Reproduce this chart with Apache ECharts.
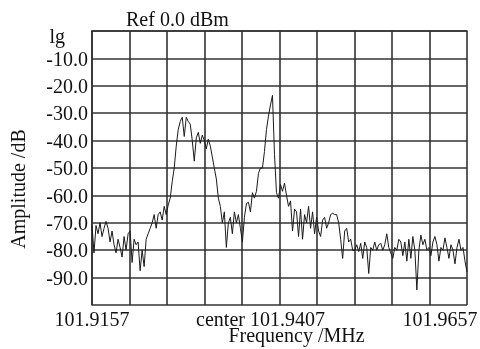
<!DOCTYPE html>
<html>
<head>
<meta charset="utf-8">
<style>
html,body{margin:0;padding:0;background:#fff;}
#chart{width:480px;height:349px;}
</style>
<script src="https://cdn.jsdelivr.net/npm/echarts@6.0.0/dist/echarts.min.js"></script>
</head>
<body>
<div id="chart"></div>
<script>
// sweep 101.9157 .. 101.9657 MHz, x is plotted as kHz offset from the start
const spanKHz = 50;
const xTickLabels = { 0: '101.9157', 25: 'center 101.9407', 50: '101.9657' };
// index = -level / 10
const yTickLabels = ['lg', '-10.0', '-20.0', '-30.0', '-40.0', '-50.0', '-60.0', '-70.0', '-80.0', '-90.0', ''];

// trace level in dB, evenly spaced across the span
const levels = [
  -71, -81, -71, -74, -70, -75, -72, -69.5, -72, -77, -73, -78, -81, -76, -79, -82.5, -75, -80, -74, -73,
  -84.5, -76, -78, -77, -87.5, -80, -86, -76, -74, -72, -70, -67, -72, -67, -66, -69, -64, -67, -63.5, -61,
  -55, -50, -42, -36, -33, -31.5, -38.5, -31.5, -33, -34, -40, -47.5, -39, -37, -41, -38, -40, -43, -39.5, -42,
  -46, -50, -54, -61, -64, -70, -66, -79, -70, -68, -74, -66, -70, -67, -72, -77, -68, -63, -62.5, -66,
  -59, -61, -58.5, -52, -50, -50, -44, -36, -31, -27, -23.5, -45, -59, -61, -56, -58.5, -55.5, -60, -64, -62,
  -73, -65, -66, -75, -65, -76, -67, -70, -64, -72, -66, -74, -68, -73, -75, -69, -68, -72, -70, -67,
  -66.5, -67, -67, -70, -76, -83, -73, -72, -77, -76, -80, -80, -78, -80.5, -77.5, -83, -77, -79, -88.5, -79,
  -80, -77, -80, -78, -77.5, -80, -78, -74, -79, -81, -83, -79, -80, -76, -77, -82, -77, -84, -76, -83,
  -75, -80, -94.5, -80, -74.5, -78, -76, -80, -79, -82, -77, -75, -78, -84, -79, -80, -75.5, -79, -83, -78,
  -80, -85, -79, -76, -80, -79, -84, -88
];

const font = 'Liberation Serif, Times New Roman, serif';
const trace = levels.map((v, i) => [i * spanKHz / (levels.length - 1), v]);

const chart = echarts.init(document.getElementById('chart'));
chart.setOption({
  animation: false,
  title: {
    text: 'Ref 0.0 dBm',
    left: 121,
    top: 6,
    textStyle: { fontFamily: font, fontSize: 20, fontWeight: 'normal', color: '#111' }
  },
  grid: { left: 92, right: 13, top: 31, bottom: 44, outerBoundsMode: 'none' },
  xAxis: {
    type: 'value',
    min: 0,
    max: spanKHz,
    interval: 5,
    name: 'Frequency /MHz',
    nameLocation: 'middle',
    nameGap: 22,
    nameMoveOverlap: false,
    nameTextStyle: { fontFamily: font, fontSize: 20, color: '#111', padding: [0, 0, 0, 34] },
    axisLine: { lineStyle: { color: '#333', width: 1.6 } },
    axisTick: { show: false },
    splitLine: { show: true, lineStyle: { color: '#333', width: 1.6 } },
    axisLabel: {
      margin: 6,
      fontFamily: font,
      fontSize: 20,
      color: '#111',
      formatter: function (v) {
        if (v === 0) return '{a|' + xTickLabels[0] + '}';
        if (v === 25) return '{b|' + xTickLabels[25] + '}';
        if (v === 50) return '{c|' + xTickLabels[50] + '}';
        return '';
      },
      rich: {
        a: { fontFamily: font, fontSize: 20, color: '#111' },
        b: { fontFamily: font, fontSize: 20, color: '#111', padding: [0, 38, 0, 0] },
        c: { fontFamily: font, fontSize: 20, color: '#111', padding: [0, 54, 0, 0] }
      }
    }
  },
  yAxis: {
    type: 'value',
    min: -100,
    max: 0,
    interval: 10,
    name: 'Amplitude /dB',
    nameLocation: 'middle',
    nameGap: 62,
    nameMoveOverlap: false,
    nameTextStyle: { fontFamily: font, fontSize: 20, color: '#111', padding: [0, 42, 0, 0] },
    axisLine: { lineStyle: { color: '#333', width: 1.6 } },
    axisTick: { show: false },
    splitLine: { show: true, lineStyle: { color: '#333', width: 1.6 } },
    axisLabel: {
      margin: 4,
      fontFamily: font,
      fontSize: 20,
      color: '#111',
      formatter: function (v) {
        const s = yTickLabels[Math.round(-v / 10)];
        if (v === 0) return '{lg|' + s + '}';
        return s ? '{n|' + s + '}' : '';
      },
      rich: {
        lg: { fontFamily: font, fontSize: 20, color: '#111', padding: [14, 23, 0, 0] },
        n: { fontFamily: font, fontSize: 20, color: '#111', padding: [4, 0, 0, 0] }
      }
    }
  },
  series: [{
    type: 'line',
    data: trace,
    showSymbol: false,
    lineStyle: { color: '#1a1a1a', width: 1 }
  }]
});
</script>
</body>
</html>
